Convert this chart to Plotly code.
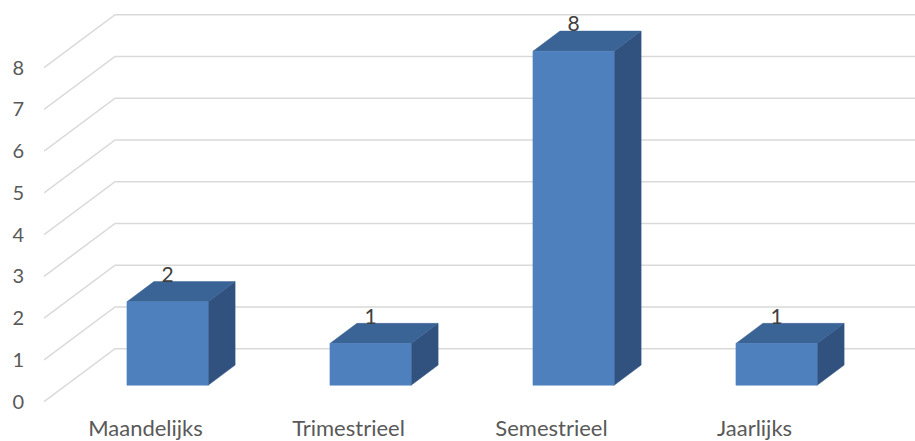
import plotly.graph_objects as go

categories = ["Maandelijks", "Trimestrieel", "Semestrieel", "Jaarlijks"]
values = [2, 1, 8, 1]
y_ticks = [0, 1, 2, 3, 4, 5, 6, 7, 8]

# 3D projection parameters (in data units)
DEPTH_DX = 0.35      # full floor depth, x shift in category units
DEPTH_DY = 1.27      # full floor depth, y shift in value units
BAR_T0, BAR_T1 = 0.31, 0.69   # bar front/back depth fractions
BAR_W = 0.4

X_MIN, X_MAX = -0.5, -0.5 + 871 / 203
Y_MIN, Y_MAX = -13.3 / 41.75, 401.7 / 41.75

FRONT = "#4F80BE"
TOP = "#3A6396"
SIDE = "#31527F"
GRID = "#D9D9D9"
TEXT = "#595959"

fig = go.Figure()

# gridlines: back wall horizontal + left wall diagonals
gx, gy = [], []
for v in y_ticks:
    gx += [X_MIN, X_MIN + DEPTH_DX, X_MAX + 1, None]
    gy += [v, v + DEPTH_DY, v + DEPTH_DY, None]
fig.add_trace(go.Scatter(x=gx, y=gy, mode="lines",
                         line=dict(color=GRID, width=1.5),
                         hoverinfo="skip", showlegend=False))

fdx, fdy = BAR_T0 * DEPTH_DX, BAR_T0 * DEPTH_DY
bdx, bdy = (BAR_T1 - BAR_T0) * DEPTH_DX, (BAR_T1 - BAR_T0) * DEPTH_DY

front_x, front_y, top_x, top_y, side_x, side_y = [], [], [], [], [], []
for i, v in enumerate(values):
    x0 = i - BAR_W / 2 + fdx
    x1 = i + BAR_W / 2 + fdx
    y0 = fdy
    y1 = v + fdy
    front_x += [x0, x1, x1, x0, x0, None]
    front_y += [y0, y0, y1, y1, y0, None]
    top_x += [x0, x1, x1 + bdx, x0 + bdx, x0, None]
    top_y += [y1, y1, y1 + bdy, y1 + bdy, y1, None]
    side_x += [x1, x1 + bdx, x1 + bdx, x1, x1, None]
    side_y += [y0, y0 + bdy, y1 + bdy, y1, y0, None]

for xs, ys, col in [(side_x, side_y, SIDE), (top_x, top_y, TOP), (front_x, front_y, FRONT)]:
    fig.add_trace(go.Scatter(x=xs, y=ys, mode="lines", fill="toself",
                             fillcolor=col, line=dict(color=col, width=0.5),
                             hoverinfo="skip", showlegend=False))

# data labels
fig.add_trace(go.Scatter(
    x=[i + fdx for i in range(len(values))],
    y=[v + fdy + bdy + 0.12 for v in values],
    mode="text", text=[str(v) for v in values],
    textposition="middle center",
    textfont=dict(family="Lato", size=21, color="#404040"),
    hoverinfo="skip", showlegend=False))

fig.update_layout(
    width=915, height=441,
    margin=dict(l=44, r=0, t=0, b=26),
    paper_bgcolor="white", plot_bgcolor="white",
    xaxis=dict(range=[X_MIN, X_MAX], tickmode="array",
               tickvals=list(range(len(categories))), ticktext=categories,
               showgrid=False, zeroline=False, showline=False,
               ticks="", ticklabelstandoff=-2, automargin=False,
               tickfont=dict(family="Lato", size=22, color=TEXT)),
    yaxis=dict(range=[Y_MIN, Y_MAX], tickmode="array",
               tickvals=y_ticks, ticktext=[str(t) for t in y_ticks],
               showgrid=False, zeroline=False, showline=False,
               ticks="", ticklabelstandoff=19, automargin=False,
               tickfont=dict(family="Lato", size=20, color=TEXT)),
)

fig.write_html("out.html")
